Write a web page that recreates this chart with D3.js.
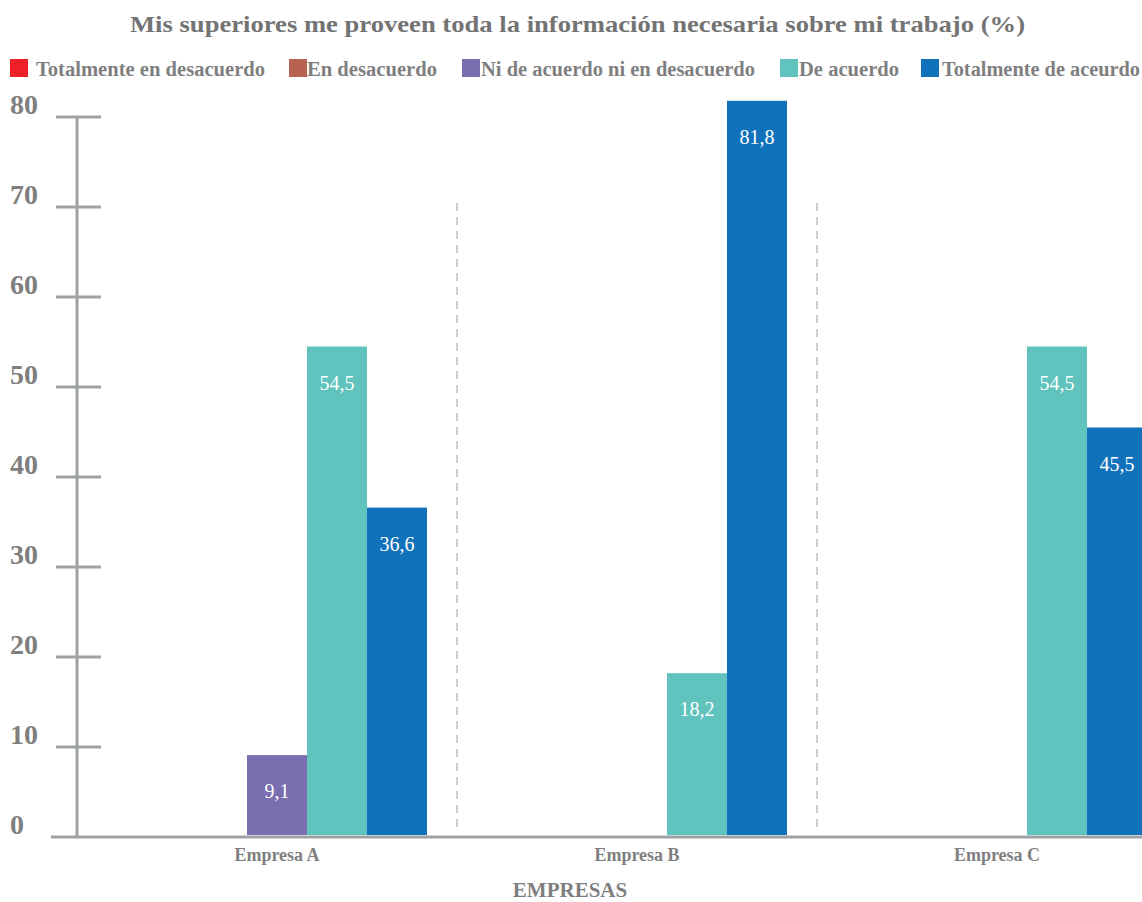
<!DOCTYPE html>
<html>
<head>
<meta charset="utf-8">
<script src="https://cdn.jsdelivr.net/npm/d3@7"></script>
<style>
  html, body { margin: 0; padding: 0; background: #fff; }
  svg { display: block; }
</style>
</head>
<body>
<svg id="chart" width="1142" height="902"></svg>
<script>
// Categories and series
const companies = ["Empresa A", "Empresa B", "Empresa C"];
const seriesNames = [
  "Totalmente en desacuerdo",
  "En desacuerdo",
  "Ni de acuerdo ni en desacuerdo",
  "De acuerdo",
  "Totalmente de aceurdo"
];
const seriesColors = ["#ee1f26", "#b86352", "#7a6db0", "#60c3bd", "#1072ba"];

// Percentages per series, one value per company
const totalDesacuerdo = [0, 0, 0];
const enDesacuerdo = [0, 0, 0];
const niAcuerdoNiDesacuerdo = [9.1, 0, 0];
const deAcuerdo = [54.5, 18.2, 54.5];
const totalAcuerdo = [36.6, 81.8, 45.5];

const yTicks = [0, 10, 20, 30, 40, 50, 60, 70, 80];

const seriesValues = [totalDesacuerdo, enDesacuerdo, niAcuerdoNiDesacuerdo, deAcuerdo, totalAcuerdo];

const records = [];
companies.forEach((c, ci) => {
  seriesNames.forEach((s, si) => {
    records.push({ company: c, series: s, color: seriesColors[si], value: seriesValues[si][ci] });
  });
});

const svg = d3.select("#chart");
const FONT = "Liberation Serif";
const textGray = "#7f7f7f";
const axisGray = "#9ea2a4";

// Fit a text node to a given run length (the Office-style text is slightly condensed)
function fit(sel, width) {
  const w = sel.node().getComputedTextLength();
  if (Math.abs(w - width) > 1) {
    sel.attr("textLength", width).attr("lengthAdjust", "spacingAndGlyphs");
  }
  return sel;
}

// Scales
const x0 = d3.scaleBand().domain(companies).range([97, 1177]).paddingInner(0).paddingOuter(0);
const x1 = d3.scaleBand().domain(seriesNames).range([0, x0.bandwidth()]).paddingInner(0).paddingOuter(0.5);
const y = d3.scaleLinear().domain([0, 80]).range([837, 117]);

// Title
fit(svg.append("text")
  .attr("x", 130).attr("y", 32)
  .attr("font-family", FONT)
  .attr("font-size", 24).attr("font-weight", "bold")
  .attr("fill", "#737373")
  .text("Mis superiores me proveen toda la información necesaria sobre mi trabajo (%)"), 895);

// Legend
const legendX = [10, 289, 462, 780, 921];
const legendTextX = [36, 307, 481, 799, 942];
const legendTextW = [229, 130, 274, 100, 198];
const legend = svg.append("g");
seriesNames.forEach((s, i) => {
  legend.append("rect")
    .attr("x", legendX[i]).attr("y", 59).attr("width", 18).attr("height", 18)
    .attr("fill", seriesColors[i]);
  fit(legend.append("text")
    .attr("x", legendTextX[i]).attr("y", 76)
    .attr("font-family", FONT)
    .attr("font-size", 20).attr("font-weight", "bold")
    .attr("fill", textGray)
    .text(s), legendTextW[i]);
});

// Group separators
companies.slice(1).forEach(c => {
  svg.append("line")
    .attr("x1", x0(c)).attr("x2", x0(c))
    .attr("y1", 203).attr("y2", 828)
    .attr("stroke", "#cfcfcf").attr("stroke-width", 2)
    .attr("stroke-dasharray", "8,6");
});

// Bars
const bars = svg.append("g");
const shown = records.filter(d => d.value > 0);
bars.selectAll("rect").data(shown).join("rect")
  .attr("x", d => x0(d.company) + x1(d.series))
  .attr("y", d => y(d.value))
  .attr("width", x1.bandwidth())
  .attr("height", d => y(0) - 2 - y(d.value))
  .attr("fill", d => d.color);

// Value labels inside the bars
const fmt = v => d3.format(".1f")(v).replace(".", ",");
bars.selectAll("text").data(shown).join("text")
  .attr("x", d => x0(d.company) + x1(d.series) + x1.bandwidth() / 2)
  .attr("y", d => y(d.value) + 43)
  .attr("text-anchor", "middle")
  .attr("font-family", FONT)
  .attr("font-size", 20)
  .attr("fill", "#ffffff")
  .text(d => fmt(d.value));

// Y axis: spine, crossing ticks, labels
const yAxis = svg.append("g");
yAxis.append("line")
  .attr("x1", 77).attr("x2", 77).attr("y1", y(80)).attr("y2", y(0))
  .attr("stroke", axisGray).attr("stroke-width", 3);
yAxis.selectAll("line.tick").data(yTicks.filter(t => t > 0)).join("line")
  .attr("class", "tick")
  .attr("x1", 56).attr("x2", 101)
  .attr("y1", d => y(d)).attr("y2", d => y(d))
  .attr("stroke", axisGray).attr("stroke-width", 3);
yAxis.selectAll("text").data(yTicks).join("text")
  .attr("x", 10).attr("y", d => y(d) - 3)
  .attr("font-family", FONT)
  .attr("font-size", 28).attr("font-weight", "bold")
  .attr("fill", textGray)
  .text(d => d);

// X axis line and category labels
svg.append("line")
  .attr("x1", 51).attr("x2", 1142).attr("y1", y(0)).attr("y2", y(0))
  .attr("stroke", axisGray).attr("stroke-width", 3);
svg.append("g").selectAll("text").data(companies).join("text")
  .attr("x", d => x0(d) + x0.bandwidth() / 2)
  .attr("y", 861)
  .attr("text-anchor", "middle")
  .attr("font-family", FONT)
  .attr("font-size", 18).attr("font-weight", "bold")
  .attr("fill", textGray)
  .text(d => d);

svg.append("text")
  .attr("x", 570).attr("y", 897)
  .attr("text-anchor", "middle")
  .attr("font-family", FONT)
  .attr("font-size", 21).attr("font-weight", "bold")
  .attr("fill", textGray)
  .text("EMPRESAS");
</script>
</body>
</html>
